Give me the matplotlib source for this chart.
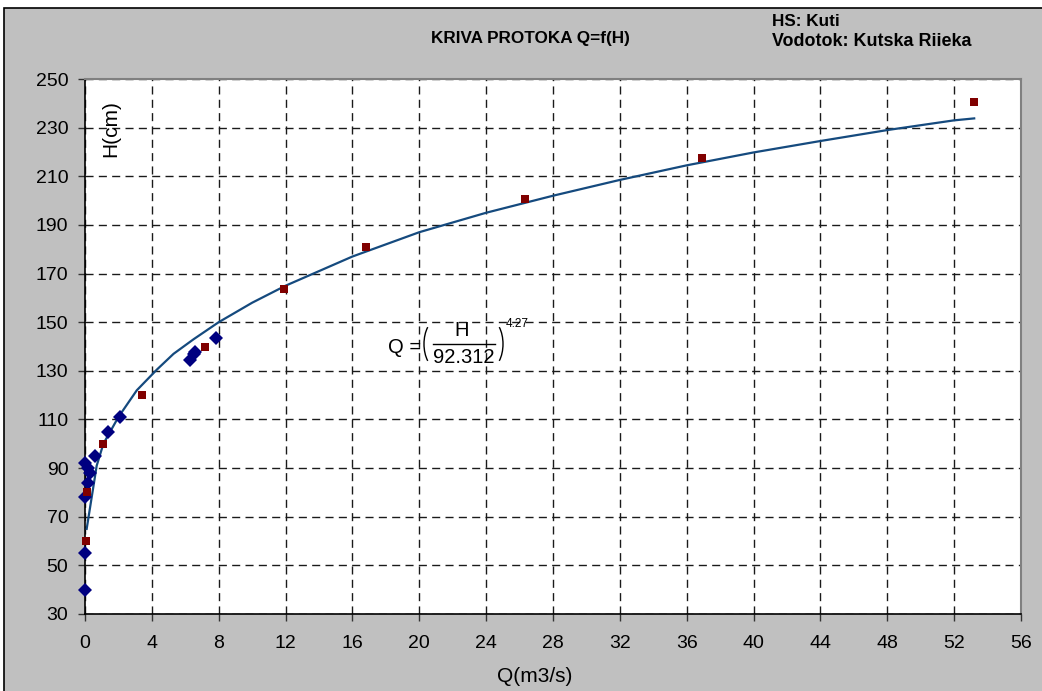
import matplotlib
matplotlib.use("Agg")
import matplotlib.pyplot as plt
from matplotlib.patches import Rectangle, Arc
from matplotlib.lines import Line2D

# ---- data ----
measured_Q = [0.0, 0.0, 0.0, 0.2, 0.15, 0.0, 0.3, 0.6, 1.4, 2.1, 6.3, 6.5, 6.6, 7.85]
measured_H = [40, 55, 78, 84, 90, 92, 88, 95, 105, 111, 134.5, 137, 137.7, 143.3]

table_Q = [0.06, 0.14, 1.1, 3.4, 7.2, 11.9, 16.8, 26.3, 36.9, 53.2]
table_H = [60, 80, 100, 120, 140, 163.5, 181, 200.5, 217.5, 240.5]

curve_Q = [0.1, 0.4, 0.7, 1.1, 2.0, 3.1, 4.3, 5.3, 6.5, 8, 10, 12, 14, 16, 18, 20,
           22, 24, 28, 32, 36, 40, 44, 48, 52, 53.2]
curve_H = [65, 78, 91, 100, 111, 122, 130.5, 137, 143, 150, 158, 165, 171, 177, 182,
           187, 191, 195, 202, 208.5, 214.5, 219.8, 224.5, 229, 233, 233.8]

x_ticks = list(range(0, 57, 4))
y_ticks = list(range(30, 251, 20))

title = "KRIVA PROTOKA Q=f(H)"
station = "HS: Kuti"
river = "Vodotok: Kutska Riieka"
xlabel = "Q(m3/s)"
ylabel = "H(cm)"
eq_lhs = "Q ="
eq_num = "H"
eq_den = "92.312"
eq_exp = "4.27"

# ---- styling ----
plt.rcParams['font.family'] = ['Liberation Sans', 'DejaVu Sans']

W, H = 1042, 691
fig = plt.figure(figsize=(W / 100, H / 100), dpi=100, facecolor='white')


def fx(px):
    return px / W


def fy(py):
    return 1 - py / H


# grey chart area with black border
bg = Rectangle((fx(3.5), -0.1), 1.2, fy(7.5) + 0.1, transform=fig.transFigure,
               facecolor='#C0C0C0', edgecolor='black', linewidth=1.2, zorder=-10)
fig.patches.append(bg)

left, right, top, bottom = 85, 1021, 79, 614
ax = fig.add_axes([fx(left), fy(bottom), (right - left) / W, (bottom - top) / H])
ax.set_facecolor('white')

ax.set_xlim(0, 56)
ax.set_ylim(30, 250)
ax.set_xticks(x_ticks)
ax.set_yticks(y_ticks)

dash = (0, (5.8, 3.8))
ax.grid(True, color='#1a1a1a', linewidth=1.0, linestyle=dash, zorder=0)
ax.set_axisbelow(True)

for s in ['left', 'bottom']:
    ax.spines[s].set_color('black')
    ax.spines[s].set_linewidth(1.2)
for s in ['top', 'right']:
    ax.spines[s].set_color('#808080')
    ax.spines[s].set_linewidth(1.5)

ax.tick_params(axis='both', direction='out', length=5, width=1, color='#333333',
               labelsize=14)
ax.tick_params(axis='y', pad=7)
ax.tick_params(axis='x', pad=10)

ax.plot(curve_Q, curve_H, color='#154A7E', linewidth=1.6, zorder=3)
ax.plot(measured_Q, measured_H, linestyle='none', marker='D', markersize=7.5,
        color='#000080', markeredgewidth=0, zorder=4, clip_on=False)
ax.plot(table_Q, table_H, linestyle='none', marker='s', markersize=5.5,
        color='#800000', markeredgewidth=0, zorder=5, clip_on=False)

# texts
fig.text(fx(530), fy(43.5), title, ha='center', va='baseline',
         fontsize=12.3, fontweight='bold')
fig.text(fx(772), fy(25.5), station, ha='left', va='baseline',
         fontsize=12.3, fontweight='bold')
fig.text(fx(772), fy(46), river, ha='left', va='baseline',
         fontsize=12.9, fontweight='bold')
fig.text(fx(535), fy(676), xlabel, ha='center', va='center', fontsize=15)
fig.text(fx(110.5), fy(128.5), ylabel, ha='center', va='center', fontsize=15,
         rotation=90)

# equation Q = (H / 92.312)^4.27, laid out like the Excel equation object
fig.text(fx(405), fy(347.5), eq_lhs, ha='center', va='center', fontsize=14.5)
fig.text(fx(462), fy(331), eq_num, ha='center', va='center', fontsize=14.5)
fig.text(fx(464), fy(357.5), eq_den, ha='center', va='center', fontsize=14.5)
fig.text(fx(506), fy(324), eq_exp, ha='left', va='center', fontsize=8.5)
fig.add_artist(Line2D([fx(433), fx(495)], [fy(344.5), fy(344.5)],
                      transform=fig.transFigure, color='black', linewidth=1.0))
fig.add_artist(Arc((fx(437), fy(344)), fx(26), 48 / H, theta1=110, theta2=250,
                   transform=fig.transFigure, color='black', linewidth=1.0))
fig.add_artist(Arc((fx(490), fy(344)), fx(26), 48 / H, theta1=-70, theta2=70,
                   transform=fig.transFigure, color='black', linewidth=1.0))

fig.savefig('out.png', dpi=100, facecolor=fig.get_facecolor())
